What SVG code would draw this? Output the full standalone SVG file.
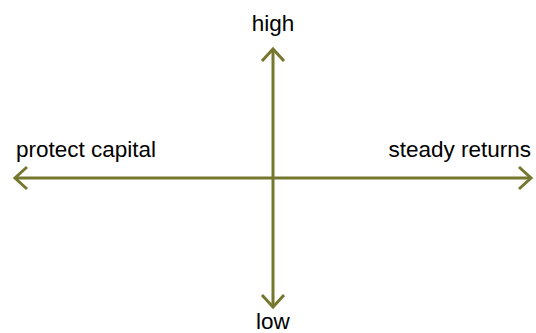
<svg xmlns="http://www.w3.org/2000/svg" width="536" height="333" viewBox="0 0 536 333">
<style>
.ax{stroke:#76772F;stroke-width:3;fill:none;stroke-linecap:butt}
.lb{font-family:"Liberation Sans",Arial,sans-serif;font-size:22.5px;fill:#000}
</style>
<rect width="536" height="333" fill="#fff"/>
<g id="connectors">
<line class="ax" x1="273" y1="49" x2="273" y2="307"/>
<line class="ax" x1="15" y1="178" x2="531" y2="178"/>
<path class="ax" d="M262,61 L273,49 L284,61"/>
<path class="ax" d="M262,295 L273,307 L284,295"/>
<path class="ax" d="M27,167 L15,178 L27,189"/>
<path class="ax" d="M519,167 L531,178 L519,189"/>
</g>
<g id="high"><text class="lb" x="273" y="31" text-anchor="middle">high</text></g>
<g id="low"><text class="lb" x="273" y="329" text-anchor="middle">low</text></g>
<g id="protect"><text class="lb" x="16" y="157">protect capital</text></g>
<g id="steady"><text class="lb" x="531" y="157" text-anchor="end">steady returns</text></g>
</svg>
